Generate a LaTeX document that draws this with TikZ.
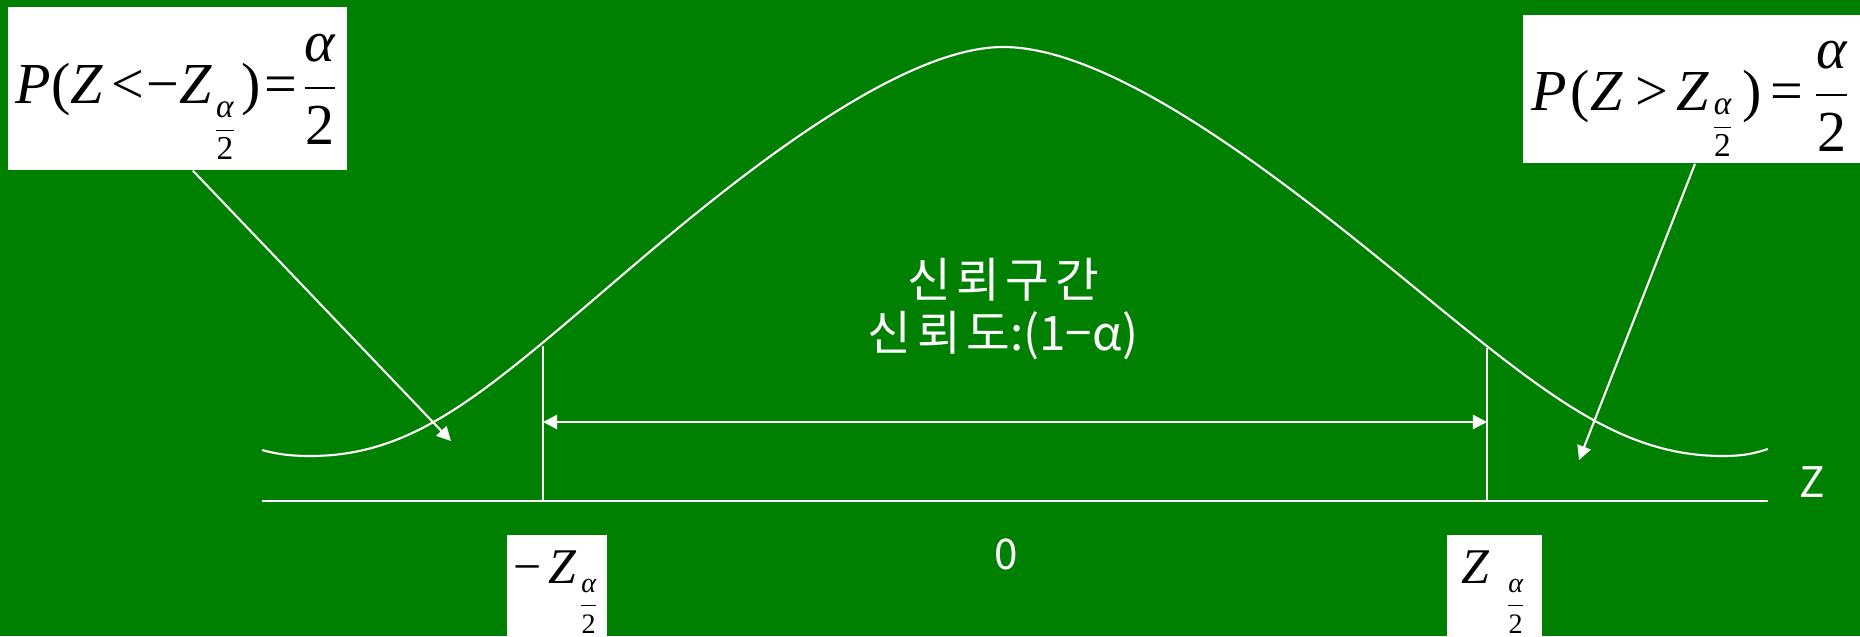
\documentclass[tikz,border=0pt]{standalone}
\usepackage{amsmath}
\usepackage{fontspec}
\newfontfamily\krfont{Noto Sans CJK KR}
\newfontfamily\krwide[LetterSpace=12]{Noto Sans CJK KR}
\newfontfamily\tmfont{Liberation Serif}
\newcommand\bigfrac{$\displaystyle\frac{\text{\tmfont\itshape α}}{\text{\tmfont 2}}$}
\newcommand\subfrac[2]{\raisebox{#2}{\fontsize{#1}{#1}\selectfont\bigfrac}}
\usetikzlibrary{arrows.meta,positioning,calc}
\definecolor{slidegreen}{RGB}{0,128,0}
\tikzset{
  formulabox/.style={fill=white,text=black,inner sep=0pt,align=center,anchor=base},
  wline/.style={white,line width=0.6pt},
  warrow/.style={wline,-{Triangle[length=4pt,width=4pt]}},
  krtext/.style={text=white,font=\krfont\fontsize{12}{14.8}\selectfont,align=center}
}

\begin{document}
\begin{tikzpicture}[x=0.01cm,y=-0.01cm]
  \fill[slidegreen] (0,0) rectangle (1860,636);
  \useasboundingbox (0,0) rectangle (1860,636);
  \coordinate (axl) at (262,501);
  \coordinate (axr) at (1768,501);
  \draw[wline] (axl) -- (axr);
  \draw[wline] (262,450) .. controls (280,455) and (295,456) .. (310,456)
     .. controls (420,456) and (490,387.5) .. (640,260)
     .. controls (740,175) and (900,47) .. (1003,47)
     .. controls (1120,47) and (1300,193.6) .. (1420,292)
     .. controls (1550,398.6) and (1623,456) .. (1723,456)
     .. controls (1745,456) and (1755,453) .. (1768,449);
  \coordinate (zlo) at (543,501); \coordinate (zlt) at (543,346);
  \coordinate (zro) at (1487,501); \coordinate (zrt) at (1487,348);
  \draw[wline] (zlo) -- (zlt);
  \draw[wline] (zro) -- (zrt);
  \coordinate (ia) at (543,422); \coordinate (ib) at (1487,422);
  \draw[wline,{Triangle[length=4pt,width=4pt]}-{Triangle[length=4pt,width=4pt]}] (ia) -- (ib);
  \node[krtext,font=\krfont\fontsize{13.5}{14.8}\selectfont] (conf) at (1003,309) {{\krwide 신뢰구간}\\{\krwide 신뢰도}:(1−α)};
  \node[krtext] (zero) at (1006,554) {0};
  \node[krtext] (zlab) at (1812,482) {Z};
  \node[formulabox,text width=3.39cm,text height=0.96cm,text depth=0.67cm,font=\tmfont\fontsize{16.5}{18}\selectfont] (lbox) at (177.5,103)
     {\textit{P}(\textit{Z}\kern2.5pt<\kern0.5pt−\textit{Z}\subfrac{9.5}{-10pt}\kern1pt)\kern1pt=\kern1pt\bigfrac};
  \node[formulabox,text width=3.37cm,text height=0.95cm,text depth=0.53cm,font=\tmfont\fontsize{16.5}{18}\selectfont] (rbox) at (1691.5,110)
     {\textit{P}\kern1pt(\textit{Z}\kern3.5pt>\kern2.5pt\textit{Z}\subfrac{9.5}{-7.2pt}\kern2pt)\kern2.5pt=\kern2.5pt\bigfrac};
  \node[formulabox,text width=1cm,text height=0.48cm,text depth=0.6cm,font=\tmfont\fontsize{14.2}{16}\selectfont] (zlbox) at (557,583)
     {−\kern2pt\textit{Z}\subfrac{8}{-8.3pt}};
  \node[formulabox,text width=0.95cm,text height=0.48cm,text depth=0.6cm,font=\tmfont\fontsize{14.2}{16}\selectfont] (zrbox) at (1494.5,583)
     {\textit{Z}\kern4pt\subfrac{8}{-8.3pt}};
  \coordinate (ltip) at (451,441);
  \coordinate (rtip) at (1579,460);
  \draw[warrow] ([xshift=4.4pt]lbox.south) -- (ltip);
  \draw[warrow] ([xshift=1pt]rbox.south) -- (rtip);
\end{tikzpicture}
\end{document}
